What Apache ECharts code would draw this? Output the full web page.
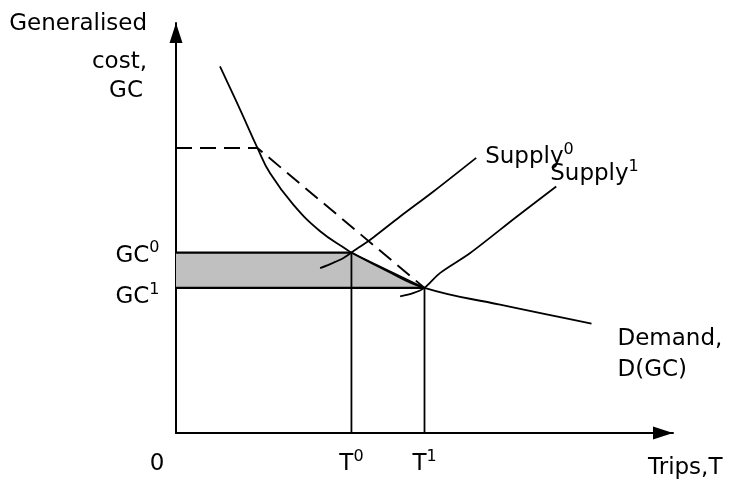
<!DOCTYPE html>
<html>
<head>
<meta charset="utf-8">
<script src="https://cdn.jsdelivr.net/npm/echarts@6/dist/echarts.min.js"></script>
<style>
  html, body { margin: 0; padding: 0; background: #fff; }
  #main { width: 730px; height: 482px; }
</style>
</head>
<body>
<div id="main"></div>
<script>
// x = trips, y = generalised cost (arbitrary units)
const T0 = 35.3, T1 = 50;
const GC0 = 44.0, GC1 = 35.4;

const xTicks = [0, T0, T1];
const xTickLabels = ['{z|0}', 'T{s|0}', 'T{s|1}'];
const yTicks = [GC0, GC1];
const yTickLabels = ['{b|GC}{s|0}', '{b|GC}{s|1}'];

const demandX = [8.85, 12.9, 16.4, 18.9, 23.6, 29.0, 34.4, T0, 42.05, T1, 65.2, 83.6];
const demandY = [89.4, 78.9, 69.5, 63.4, 55.7, 49.2, 44.7, GC0, 39.8, GC1, 31.3, 26.7];

const supply0X = [29.0, 31.6, 33.7, T0, 37.0, 39.7, 45.1, 51.8, 60.4];
const supply0Y = [40.2, 41.5, 42.7, GC0, 45.4, 47.7, 52.8, 58.9, 67.1];

const supply1X = [45.1, 47.7, T1, 53.1, 59.2, 68.6, 76.5];
const supply1Y = [33.3, 34.1, GC1, 39.0, 43.9, 52.8, 60.1];

// dashed line: old cost level up to the demand curve, then down to the new equilibrium
const dashX = [0, 16.4, T1];
const dashY = [69.5, 69.5, GC1];

// shaded area between GC0 and GC1
const bandX = [0, T0, T1, 0];
const bandY = [GC0, GC0, GC1, GC1];

const pairs = (xs, ys) => xs.map((x, i) => [x, ys[i]]);

const FONT = 'DejaVu Sans';
const LH = 31;
const big = { fontSize: 23, fontFamily: FONT, color: '#000', lineHeight: LH, textBorderWidth: 0 };
const sup = { fontSize: 16, fontFamily: FONT, color: '#000', verticalAlign: 'top', textBorderWidth: 0 };
const TITLE_FONT = '23px "DejaVu Sans"';

const chart = echarts.init(document.getElementById('main'));

function lineSeries(data, opts) {
  return Object.assign({
    type: 'line',
    data: data,
    showSymbol: false,
    symbol: 'none',
    silent: true,
    lineStyle: { color: '#000', width: 1.8 },
    z: 3
  }, opts || {});
}

function curveLabel(text, offset) {
  return {
    show: true,
    formatter: text,
    offset: offset,
    distance: 0,
    align: 'left',
    verticalAlign: 'middle',
    fontSize: 23,
    lineHeight: LH,
    fontFamily: FONT,
    color: '#000',
    rich: { s: sup }
  };
}

const axisLine = {
  show: true,
  onZero: false,
  symbol: ['none', 'triangle'],
  symbolSize: [13, 20],
  symbolOffset: [0, -10],
  lineStyle: { color: '#000', width: 2 }
};

const option = {
  animation: false,
  backgroundColor: '#fff',
  grid: { left: 176, right: 57, top: 23, bottom: 49 },
  xAxis: {
    type: 'value',
    min: 0,
    max: 100,
    splitLine: { show: false },
    axisTick: { show: false },
    axisLine: axisLine,
    axisLabel: {
      customValues: xTicks,
      margin: 16,
      formatter: function (v) {
        return xTickLabels[xTicks.indexOf(v)];
      },
      color: '#000',
      fontSize: 23,
      lineHeight: LH,
      fontFamily: FONT,
      rich: {
        z: Object.assign({}, big, { padding: [0, 38, 0, 0] }),
        s: sup
      }
    }
  },
  yAxis: {
    type: 'value',
    min: 0,
    max: 100,
    splitLine: { show: false },
    axisTick: { show: false },
    axisLabel: { show: false },
    axisLine: axisLine
  },
  graphic: [
    { type: 'text', style: { text: 'Generalised', x: 147, y: 24, align: 'right', verticalAlign: 'middle', font: TITLE_FONT, fill: '#000' } },
    { type: 'text', style: { text: 'cost,', x: 147, y: 62.5, align: 'right', verticalAlign: 'middle', font: TITLE_FONT, fill: '#000' } },
    { type: 'text', style: { text: 'GC', x: 143, y: 91, align: 'right', verticalAlign: 'middle', font: TITLE_FONT, fill: '#000' } },
    { type: 'text', style: { text: 'Trips,T', x: 648, y: 468.5, align: 'left', verticalAlign: 'middle', font: TITLE_FONT, fill: '#000' } }
  ],
  series: [
    {
      type: 'custom',
      silent: true,
      z: 1,
      data: [[0, 0]],
      renderItem: function (params, api) {
        const pts = bandX.map((x, i) => api.coord([x, bandY[i]]));
        return { type: 'polygon', shape: { points: pts }, style: { fill: '#c0c0c0' } };
      }
    },
    // GC0 / GC1 labels beside the cost axis
    {
      type: 'scatter',
      silent: true,
      clip: false,
      symbolSize: 1,
      itemStyle: { color: 'rgba(0,0,0,0)' },
      z: 5,
      label: {
        show: true,
        position: 'left',
        distance: 16,
        formatter: function (p) { return yTickLabels[p.dataIndex]; },
        color: '#000',
        opacity: 1,
        textBorderWidth: 0,
        textShadowBlur: 0,
        fontSize: 23,
        lineHeight: LH,
        fontFamily: FONT,
        rich: { b: big, s: sup }
      },
      data: [
        { value: [0, yTicks[0]], label: { offset: [0, 3] } },
        { value: [0, yTicks[1]], label: { offset: [0, 9.5] } }
      ]
    },
    lineSeries([[0, GC0], [T0, GC0]], { lineStyle: { color: '#000', width: 2.4 } }),
    lineSeries([[0, GC1], [T1, GC1]], { lineStyle: { color: '#000', width: 2.4 } }),
    lineSeries([[T0, 0], [T0, GC0]]),
    lineSeries([[T1, 0], [T1, GC1]]),
    lineSeries([[T0, GC0], [T1, GC1]], { lineStyle: { color: '#000', width: 1.6 } }),
    lineSeries(pairs(dashX, dashY), { lineStyle: { color: '#000', width: 1.9, type: [16, 8] } }),
    lineSeries(pairs(demandX, demandY), {
      smooth: 0.45,
      endLabel: curveLabel('Demand,\nD(GC)', [26, 31.5])
    }),
    lineSeries(pairs(supply0X, supply0Y), {
      smooth: 0.3,
      endLabel: curveLabel('Supply{s|0}', [9, -0.5])
    }),
    lineSeries(pairs(supply1X, supply1Y), {
      smooth: 0.3,
      endLabel: curveLabel('Supply{s|1}', [-6, -12.5])
    })
  ]
};

chart.setOption(option);
</script>
</body>
</html>
